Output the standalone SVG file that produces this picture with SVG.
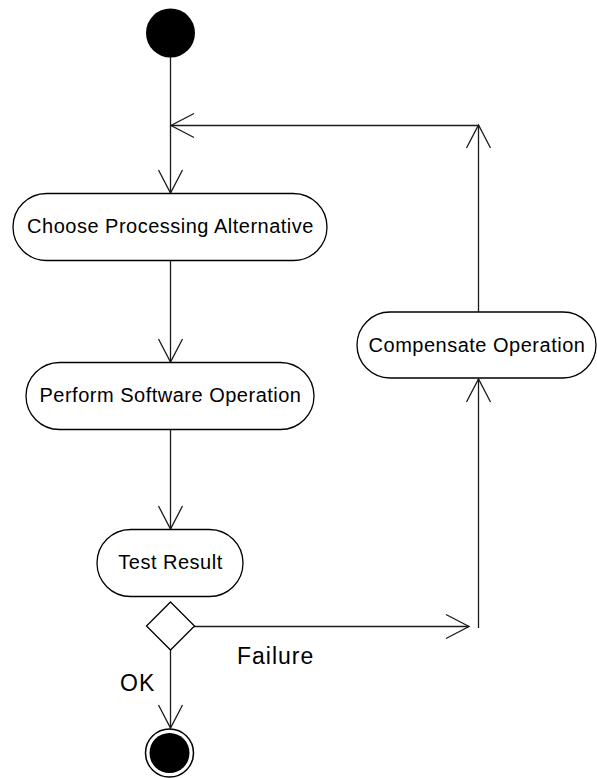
<svg xmlns="http://www.w3.org/2000/svg" width="597" height="778" viewBox="0 0 597 778">
  <style>
    .act { fill: #ffffff; stroke: #000000; stroke-width: 1.3; }
    .lbl { font-family: "Liberation Sans", Arial, sans-serif; font-size: 20px; letter-spacing: 0.5px; fill: #000000; text-anchor: middle; }
    .guard { font-family: "Liberation Sans", Arial, sans-serif; font-size: 23px; letter-spacing: 1px; fill: #000000; }
    .flow { fill: none; stroke: #1a1a1a; stroke-width: 1.3; }
  </style>
  <defs>
    <marker id="open" markerUnits="userSpaceOnUse" viewBox="-26 -14 28 28" refX="0" refY="0" markerWidth="28" markerHeight="28" orient="auto" overflow="visible">
      <path d="M -23,-12 L 0,0 L -23,12" fill="none" stroke="#1a1a1a" stroke-width="1.3"/>
    </marker>
  </defs>

  <!-- control flows -->
  <g id="connectors">
    <path class="flow" d="M 170.5,57 L 170.5,193" marker-end="url(#open)"/>
    <path class="flow" d="M 170.5,261 L 170.5,362" marker-end="url(#open)"/>
    <path class="flow" d="M 170.5,429 L 170.5,529" marker-end="url(#open)"/>
    <path class="flow" d="M 170.5,650 L 170.5,728" marker-end="url(#open)"/>
    <path class="flow" d="M 194,626.5 L 469,626.5" marker-end="url(#open)"/>
    <path class="flow" d="M 478.5,628 L 478.5,379" marker-end="url(#open)"/>
    <path class="flow" d="M 478.5,312 L 478.5,125" marker-end="url(#open)"/>
    <path class="flow" d="M 478.5,125.5 L 171,125.5" marker-end="url(#open)"/>
  </g>

  <g id="start">
    <circle cx="170.5" cy="33" r="24.5" fill="#000000"/>
  </g>

  <g id="choose">
    <rect class="act" x="13" y="193.5" width="314" height="67" rx="33.5" ry="33.5"/>
    <text class="lbl" x="170.5" y="233">Choose Processing Alternative</text>
  </g>

  <g id="perform">
    <rect class="act" x="26" y="362.5" width="288" height="67" rx="33.5" ry="33.5"/>
    <text class="lbl" x="170.5" y="402">Perform Software Operation</text>
  </g>

  <g id="test">
    <rect class="act" x="97" y="529.5" width="146" height="67" rx="33.5" ry="33.5"/>
    <text class="lbl" x="170.5" y="569">Test Result</text>
  </g>

  <g id="decision">
    <polygon class="act" points="170.5,602 194.5,626 170.5,650 146.5,626"/>
  </g>

  <g id="compensate">
    <rect class="act" x="357" y="312" width="239" height="66" rx="33" ry="33"/>
    <text class="lbl" x="477" y="352">Compensate Operation</text>
  </g>

  <g id="end">
    <circle cx="169.5" cy="753" r="24" fill="#ffffff" stroke="#000000" stroke-width="1.5"/>
    <circle cx="169.5" cy="753" r="20" fill="#000000"/>
  </g>

  <g id="guards">
    <text class="guard" x="237" y="664">Failure</text>
    <text class="guard" x="120" y="691">OK</text>
  </g>
</svg>
